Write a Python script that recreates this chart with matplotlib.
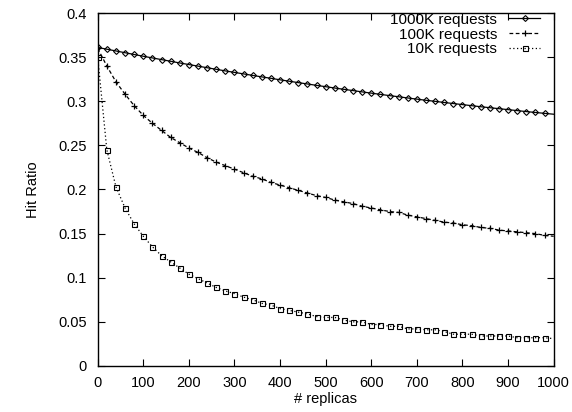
import numpy as np
import matplotlib
matplotlib.use("Agg")
import matplotlib.pyplot as plt
from matplotlib.lines import Line2D

plt.rcParams['font.family'] = ['Liberation Sans', 'DejaVu Sans']

# replicas sampled every 20
replicas = list(range(0, 1001, 20))

hit_1000k = [0.3610, 0.3590, 0.3570, 0.3550, 0.3530, 0.3510, 0.3491, 0.3472, 0.3453, 0.3434,
             0.3416, 0.3398, 0.3380, 0.3362, 0.3344, 0.3327, 0.3310, 0.3293, 0.3276, 0.3260,
             0.3243, 0.3227, 0.3211, 0.3196, 0.3180, 0.3165, 0.3150, 0.3135, 0.3121, 0.3106,
             0.3092, 0.3078, 0.3064, 0.3051, 0.3037, 0.3024, 0.3011, 0.2999, 0.2986, 0.2974,
             0.2962, 0.2950, 0.2938, 0.2927, 0.2916, 0.2905, 0.2894, 0.2883, 0.2873, 0.2863,
             0.2853]

hit_100k = [0.360, 0.340, 0.322, 0.308, 0.295, 0.284, 0.275, 0.267, 0.259, 0.253,
            0.247, 0.242, 0.236, 0.231, 0.227, 0.223, 0.219, 0.215, 0.212, 0.208,
            0.205, 0.202, 0.199, 0.196, 0.193, 0.191, 0.188, 0.186, 0.184, 0.181,
            0.179, 0.177, 0.175, 0.174, 0.171, 0.169, 0.167, 0.165, 0.163, 0.162,
            0.160, 0.159, 0.157, 0.156, 0.154, 0.153, 0.152, 0.151, 0.150, 0.148,
            0.147]

hit_10k = [0.350, 0.245, 0.203, 0.179, 0.161, 0.147, 0.135, 0.125, 0.118, 0.111,
           0.104, 0.099, 0.094, 0.089, 0.085, 0.082, 0.078, 0.075, 0.071, 0.069,
           0.065, 0.063, 0.061, 0.059, 0.056, 0.055, 0.055, 0.052, 0.050, 0.050,
           0.047, 0.047, 0.045, 0.045, 0.042, 0.042, 0.041, 0.041, 0.039, 0.036,
           0.036, 0.036, 0.034, 0.034, 0.034, 0.034, 0.032, 0.032, 0.032, 0.032,
           0.031]

labels = ['1000K requests', '100K requests', '10K requests']

styles = [
    dict(color='black', lw=0.9, ls='-', marker='D', ms=3.0, mfc='none', mec='black', mew=0.8),
    dict(color='black', lw=0.9, ls=(0, (3, 2)), marker='+', ms=5, mew=0.9),
    dict(color='black', lw=0.9, ls=(0, (1, 2)), marker='s', ms=3.6, mfc='none', mec='black', mew=0.8),
]

fig = plt.figure(figsize=(5.72, 4.12), dpi=100)
ax = fig.add_axes([0.1708, 0.1117, 0.7972, 0.8567])

marks = slice(0, -1)  # last sample (1000) carries no marker
for ys, st in zip([hit_1000k, hit_100k, hit_10k], styles):
    ax.plot(replicas, ys, markevery=marks, **st)

ax.set_xlim(0, 1000)
ax.set_ylim(0, 0.4)
ax.set_xticks(np.arange(0, 1001, 100))
ax.set_yticks(np.arange(0, 0.401, 0.05))
ax.set_yticklabels(['0', '0.05', '0.1', '0.15', '0.2', '0.25', '0.3', '0.35', '0.4'])
ax.tick_params(direction='in', top=True, right=True, length=5, width=0.8, labelsize=10.5)
ax.tick_params(axis='x', pad=7)
ax.tick_params(axis='y', pad=8)
for s in ax.spines.values():
    s.set_linewidth(1.0)

ax.set_xlabel('# replicas', fontsize=10.5, labelpad=2)
ax.set_ylabel('Hit Ratio', fontsize=10.5, labelpad=13)

handles = [Line2D([], [], **st) for st in styles]
leg = ax.legend(handles, labels, loc='upper right', frameon=False, markerfirst=False,
                fontsize=11, numpoints=1, handlelength=2.0, handletextpad=0.8,
                labelspacing=0.05, borderaxespad=0.0, bbox_to_anchor=(0.983, 1.018))

fig.savefig('out.png', dpi=100)
